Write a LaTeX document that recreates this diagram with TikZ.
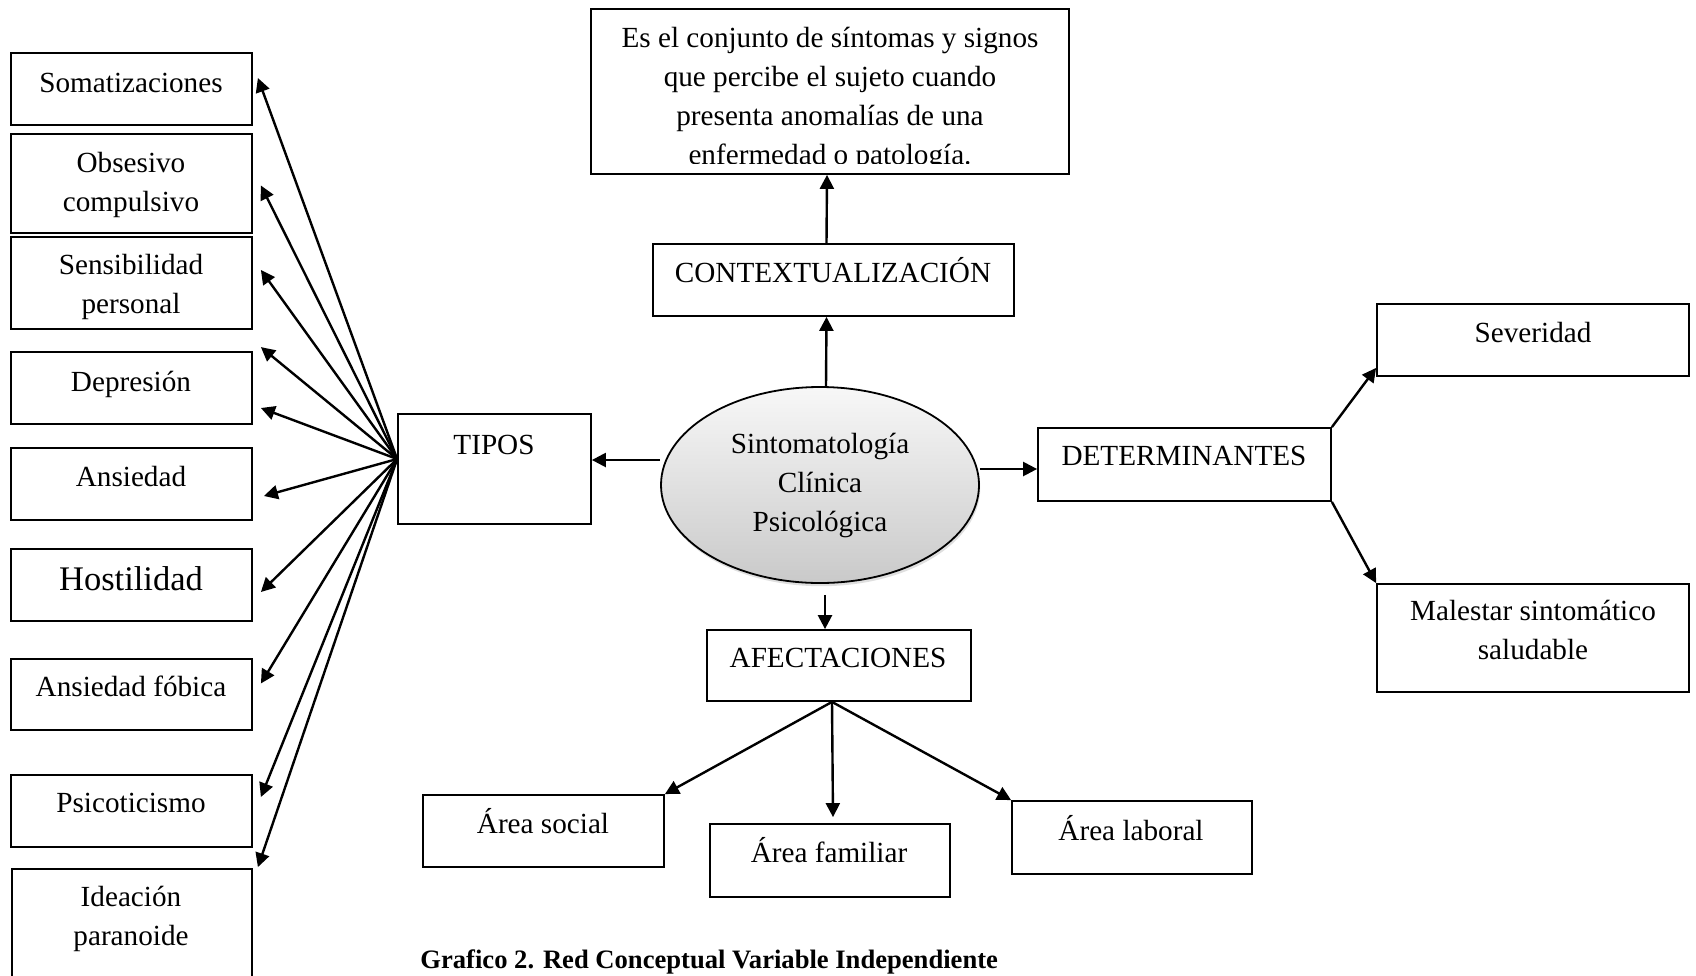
\documentclass[tikz,border=0pt]{standalone}
\usepackage{fontspec}
\setmainfont{Liberation Serif}
\usetikzlibrary{arrows.meta,calc,fit,shapes.geometric,shadows}
\newcommand\nfont{\fontsize{14.6pt}{19.5pt}\selectfont}
\newcommand\hfont{\fontsize{17.25pt}{22pt}\selectfont}
\begin{document}
\begin{tikzpicture}[x=0.5pt,y=-0.5pt,
  box/.style={draw, line width=0.9pt, inner sep=0pt, rectangle},
  txt/.style={align=center, font=\nfont, inner sep=0pt,
    execute at begin node=\strut, execute at end node=\strut},
  arr/.style={line width=1.2pt, -{Triangle[length=7pt,width=7pt]}},
  core/.style={ellipse, draw, line width=0.9pt, inner sep=0pt,
    minimum width=159pt, minimum height=98pt,
    top color=gray!6, bottom color=gray!42,
    drop shadow={shadow xshift=0.6pt, shadow yshift=-1.6pt, opacity=0.25, fill=gray}}
]
\useasboundingbox (0,0) rectangle (1696,975);
\fill[white] (0,0) rectangle (1696,975);
\clip (0,0) rectangle (1696,975);

% left column
\node[box, fit={(11,53) (252,125)}] (som) {};
\node[txt] (somt) at (131,85) {Somatizaciones};
\node[box, fit={(11,134) (252,233)}] (obs) {};
\node[txt] (obst) at (131,188) {Obsesivo\\compulsivo};
\node[box, fit={(11,237) (252,329)}] (sen) {};
\node[txt] (sent) at (131,290) {Sensibilidad\\personal};
\node[box, fit={(11,352) (252,424)}] (dep) {};
\node[txt] (dept) at (131,384) {Depresión};
\node[box, fit={(11,448) (252,520)}] (ans) {};
\node[txt] (anst) at (131,479) {Ansiedad};
\node[box, fit={(11,549) (252,621)}] (hos) {};
\node[txt, font=\hfont] (host) at (131,582) {Hostilidad};
\node[box, fit={(11,659) (252,730)}] (fob) {};
\node[txt] (fobt) at (131,689) {Ansiedad fóbica};
\node[box, fit={(11,775) (252,847)}] (psi) {};
\node[txt] (psit) at (131,805) {Psicoticismo};
\node[box, fit={(12,869) (252,1010)}] (ide) {};
\node[txt] (idet) at (131,922) {Ideación\\paranoide};

% TIPOS
\node[box, fit={(398,414) (591,524)}] (tipos) {};
\node[txt] (tipost) at (494,447) {TIPOS};

% core
\node[core] (core) at (820,485) {};
\node[txt] (coret) at (820,488) {Sintomatología\\Clínica\\Psicológica};

% top
\node[box, fit={(591,9) (1069,174)}] (def) {};
\begin{scope}
\clip (591,9) rectangle (1069,163);
\node[txt] (deft) at (830,102) {Es el conjunto de síntomas y signos\\que percibe el sujeto cuando\\presenta anomalías de una\\enfermedad o patología.};
\end{scope}
\node[box, fit={(653,244) (1014,316)}] (ctx) {};
\node[txt] (ctxt) at (833,275) {CONTEXTUALIZACIÓN};

% right
\node[box, fit={(1038,428) (1331,501)}] (det) {};
\node[txt] (dett) at (1184,458) {DETERMINANTES};
\node[box, fit={(1377,304) (1689,376)}] (sev) {};
\node[txt] (sevt) at (1533,335) {Severidad};
\node[box, fit={(1377,584) (1689,692)}] (mal) {};
\node[txt] (malt) at (1533,636) {Malestar sintomático\\saludable};

% bottom
\node[box, fit={(707,630) (971,701)}] (afe) {};
\node[txt] (afet) at (838,660) {AFECTACIONES};
\node[box, fit={(423,795) (664,867)}] (soc) {};
\node[txt] (soct) at (543,826) {Área social};
\node[box, fit={(710,824) (950,897)}] (fam) {};
\node[txt] (famt) at (829,855) {Área familiar};
\node[box, fit={(1012,801) (1252,874)}] (lab) {};
\node[txt] (labt) at (1131,833) {Área laboral};

\node[font=\bfseries\fontsize{13.3pt}{16pt}\selectfont, anchor=base west, inner sep=0pt] (cap) at (420,968) {Grafico 2. Red Conceptual Variable Independiente};

% connectors
\coordinate (fan) at ($(tipos.west)+(0,-10)$);
\draw[arr] (fan) -- ($(som.east)+(5,-11)$);
\draw[arr] (fan) -- ($(obs.east)+(8,2)$);
\draw[arr] (fan) -- ($(sen.east)+(8,-13)$);
\draw[arr] (fan) -- ($(dep.north east)+(8,-4)$);
\draw[arr] (fan) -- ($(dep.east)+(8,20)$);
\draw[arr] (fan) -- ($(ans.east)+(11,12)$);
\draw[arr] (fan) -- ($(hos.east)+(8,7)$);
\draw[arr] (fan) -- ($(fob.east)+(8,-11)$);
\draw[arr] (fan) -- ($(psi.east)+(8,-14)$);
\draw[arr] (fan) -- ($(ide.north east)+(5,-1)$);

\draw[arr] ($(core.west)+(0,-25)$) -- ($(tipos.east)+(0,-9)$);
\draw[arr] ($(core.north)+(6,0)$) -- ($(ctx.south)+(-7,0)$);
\draw[arr] ($(ctx.north)+(-7,0)$) -- ($(def.south)+(-3,0)$);
\draw[arr] ($(core.east)+(0,-16)$) -- ($(det.west)+(0,4.5)$);
\draw[arr] ($(core.south)+(5,11)$) -- ($(afe.north)+(-14,0)$);

\draw[arr] (det.north east) -- ($(sev.south west)+(0,-9)$);
\draw[arr] (det.south east) -- (mal.north west);

\coordinate (afo) at ($(afe.south)+(-7,0)$);
\draw[arr] (afo) -- (soc.north east);
\draw[arr] (afo) -- ($(fam.north)+(3,-6)$);
\draw[arr] (afo) -- (lab.north west);
\end{tikzpicture}
\end{document}
